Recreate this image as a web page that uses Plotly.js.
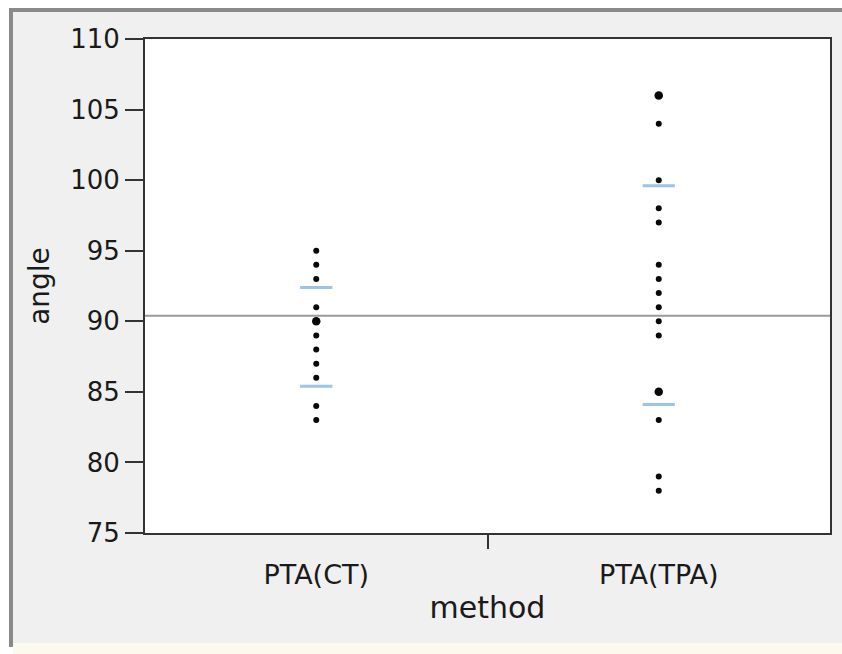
<!DOCTYPE html>
<html>
<head>
<meta charset="utf-8">
<script src="https://cdn.plot.ly/plotly-3.0.1.min.js"></script>
<style>
  html, body { margin: 0; padding: 0; width: 842px; height: 654px; overflow: hidden; background: #ffffff; }
  #frame { position: absolute; left: 9px; top: 8px; width: 833px; height: 635px;
           border-left: 4px solid #8a8a8a; border-top: 4px solid #8a8a8a; background: #f0f0f0; }
  #bottomstrip { position: absolute; left: 13px; top: 643px; width: 829px; height: 11px; background: #fcf9ef; }
  #chart { position: absolute; left: 0; top: 0; width: 829px; height: 631px; }
</style>
</head>
<body>
<div id="frame"><div id="chart"></div></div>
<div id="bottomstrip"></div>
<script>
// ---- data ----
const categories = ['PTA(CT)', 'PTA(TPA)'];
const ctAngles  = [95, 94, 93, 91, 90, 89, 88, 87, 86, 84, 83];
const ctCounts  = [1, 1, 1, 1, 2, 1, 1, 1, 1, 1, 1];
const tpaAngles = [106, 104, 100, 98, 97, 94, 93, 92, 91, 90, 89, 85, 83, 79, 78];
const tpaCounts = [2, 1, 1, 1, 1, 1, 1, 1, 1, 1, 1, 2, 1, 1, 1];
const upperBars = [92.4, 99.6];
const lowerBars = [85.4, 84.1];
const grandMean = 90.4;
const yTickVals = [75, 80, 85, 90, 95, 100, 105, 110];

// ---- build ----
const font = 'DejaVu Sans, Verdana, sans-serif';
function sizes(counts) { return counts.map(c => 6 + 2.5 * (c - 1)); }
const catIndex = categories.map((c, i) => i);
const boundaries = catIndex.slice(1).map(i => i - 0.5);

const traces = [
  { x: ctAngles.map(() => catIndex[0]), y: ctAngles, type: 'scatter', mode: 'markers',
    marker: { color: '#080808', opacity: 1, size: sizes(ctCounts), line: { width: 0 } }, showlegend: false },
  { x: tpaAngles.map(() => catIndex[1]), y: tpaAngles, type: 'scatter', mode: 'markers',
    marker: { color: '#080808', opacity: 1, size: sizes(tpaCounts), line: { width: 0 } }, showlegend: false }
];

const halfW = 0.047;
const shapes = [
  { type: 'line', xref: 'paper', yref: 'y', x0: 0, x1: 1, y0: grandMean, y1: grandMean,
    line: { color: '#9a9a9a', width: 2 }, layer: 'below' }
];
catIndex.forEach(i => {
  [upperBars[i], lowerBars[i]].forEach(v => {
    shapes.push({ type: 'line', xref: 'x', yref: 'y', x0: i - halfW, x1: i + halfW, y0: v, y1: v,
      line: { color: '#9dc3e6', width: 3 }, layer: 'above' });
  });
});

const layout = {
  width: 829, height: 631,
  margin: { l: 132, r: 12, t: 27, b: 110 },
  paper_bgcolor: 'rgba(0,0,0,0)',
  plot_bgcolor: '#ffffff',
  font: { family: font, color: '#1a1a1a', size: 25 },
  showlegend: false,
  xaxis: {
    type: 'linear', range: [-0.5, catIndex.length - 0.5],
    tickmode: 'array', tickvals: catIndex, ticktext: categories,
    ticks: '', ticklabelstandoff: 17,
    minor: { tickmode: 'array', tickvals: boundaries, ticks: 'outside', ticklen: 14, tickwidth: 2, tickcolor: '#333333', showgrid: false },
    showline: true, linecolor: '#333333', linewidth: 2, mirror: true,
    showgrid: false, zeroline: false,
    tickfont: { family: font, size: 27, color: '#1a1a1a' },
    title: { text: 'method', font: { family: font, size: 30, color: '#1a1a1a' }, standoff: 8 },
    automargin: false, fixedrange: true
  },
  yaxis: {
    range: [75, 110], tickvals: yTickVals, ticktext: yTickVals.map(String),
    ticks: 'outside', ticklen: 18, tickwidth: 2, tickcolor: '#333333',
    showline: true, linecolor: '#333333', linewidth: 2, mirror: true,
    showgrid: false, zeroline: false,
    tickfont: { family: font, size: 26, color: '#1a1a1a' },
    title: { text: 'angle', font: { family: font, size: 28, color: '#1a1a1a' }, standoff: 12 },
    automargin: false, fixedrange: true
  },
  shapes: shapes
};

Plotly.newPlot('chart', traces, layout, { displayModeBar: false, staticPlot: true });
</script>
</body>
</html>
